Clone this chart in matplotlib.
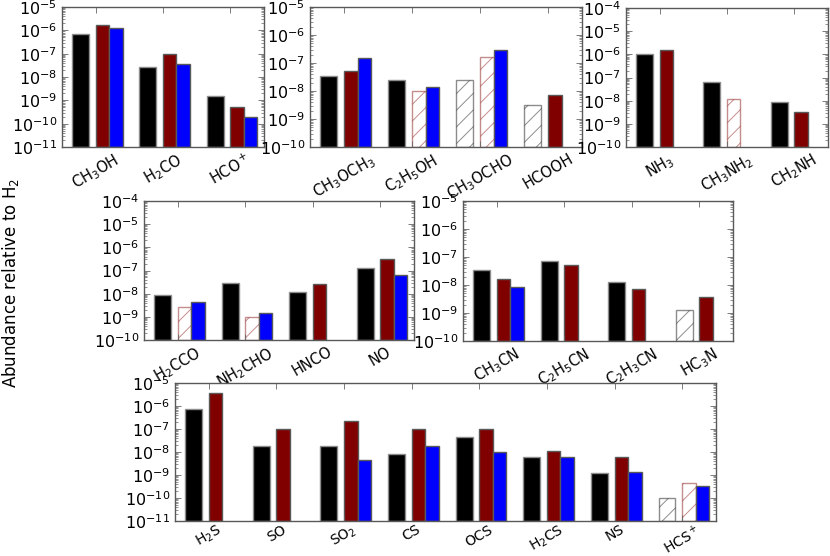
import matplotlib
matplotlib.use('Agg')
import matplotlib.pyplot as plt
from matplotlib.ticker import LogLocator, NullFormatter
import numpy as np

plt.rcParams['font.family'] = 'DejaVu Sans'
plt.rcParams['font.size'] = 11
plt.rcParams['hatch.linewidth'] = 0.7

# ---- data: black = observed, red = model A, blue = model B (None = no bar)
# panel 1: alcohols / aldehydes
p1_names = [r'CH$_3$OH', r'H$_2$CO', r'HCO$^+$']
p1_obs = [6.7e-7, 2.6e-8, 1.5e-9]
p1_red = [1.7e-6, 1.0e-7, 5.0e-10]
p1_blue = [1.2e-6, 3.5e-8, 2.0e-10]
p1_obs_lim = [False, False, False]
p1_red_lim = [False, False, False]

# panel 2: complex O-bearing
p2_names = [r'CH$_3$OCH$_3$', r'C$_2$H$_5$OH', r'CH$_3$OCHO', 'HCOOH']
p2_obs = [3.5e-8, 2.5e-8, 2.5e-8, 3.2e-9]
p2_red = [5.0e-8, 1.0e-8, 1.6e-7, 7.0e-9]
p2_blue = [1.5e-7, 1.4e-8, 2.8e-7, None]
p2_obs_lim = [False, False, True, True]
p2_red_lim = [False, True, True, False]

# panel 3: N-bearing
p3_names = [r'NH$_3$', r'CH$_3$NH$_2$', r'CH$_2$NH']
p3_obs = [1.0e-6, 6.5e-8, 8.8e-9]
p3_red = [1.55e-6, 1.2e-8, 3.3e-9]
p3_blue = [None, None, None]
p3_obs_lim = [False, False, False]
p3_red_lim = [False, True, False]

# panel 4
p4_names = [r'H$_2$CCO', r'NH$_2$CHO', 'HNCO', 'NO']
p4_obs = [9.0e-9, 3.0e-8, 1.2e-8, 1.25e-7]
p4_red = [2.7e-9, 1.0e-9, 2.5e-8, 3.2e-7]
p4_blue = [4.4e-9, 1.5e-9, None, 6.5e-8]
p4_obs_lim = [False, False, False, False]
p4_red_lim = [True, True, False, False]

# panel 5: nitriles
p5_names = [r'CH$_3$CN', r'C$_2$H$_5$CN', r'C$_2$H$_3$CN', r'HC$_3$N']
p5_obs = [3.3e-8, 7.4e-8, 1.25e-8, 1.25e-9]
p5_red = [1.6e-8, 5.0e-8, 7.4e-9, 3.8e-9]
p5_blue = [8.5e-9, None, None, None]
p5_obs_lim = [False, False, False, True]
p5_red_lim = [False, False, False, False]

# panel 6: S-bearing
p6_names = [r'H$_2$S', 'SO', r'SO$_2$', 'CS', 'OCS', r'H$_2$CS', 'NS', r'HCS$^+$']
p6_obs = [7.1e-7, 1.8e-8, 1.9e-8, 8.5e-9, 4.5e-8, 6.3e-9, 1.26e-9, 1.0e-10]
p6_red = [3.7e-6, 1.0e-7, 2.2e-7, 1.05e-7, 1.05e-7, 1.15e-8, 5.9e-9, 4.3e-10]
p6_blue = [None, None, 4.7e-9, 1.75e-8, 1.0e-8, 6.0e-9, 1.3e-9, 3.4e-10]
p6_obs_lim = [False, False, False, False, False, False, False, True]
p6_red_lim = [False, False, False, False, False, False, False, True]

W, H = 830, 556
fig = plt.figure(figsize=(W / 100, H / 100), dpi=100)


def px_rect(left, right, top, bottom):
    return [left / W, (H - bottom) / H, (right - left) / W, (bottom - top) / H]


def draw_panel(rect, names, obs, red, blue, obs_lim, red_lim, ylo, yhi,
               xfs=10.5, xpad=3):
    ax = fig.add_axes(rect)
    x = np.arange(len(names))
    for i in range(len(names)):
        if obs[i] is not None:
            if obs_lim[i]:
                ax.bar(x[i] - 0.35, obs[i] - ylo, 0.25, bottom=ylo, align='edge',
                       facecolor='white', edgecolor=(0, 0, 0, 0.45), hatch='//', lw=1)
            else:
                ax.bar(x[i] - 0.35, obs[i] - ylo, 0.25, bottom=ylo, align='edge',
                       color='black', edgecolor='0.55', lw=1)
        if red[i] is not None:
            if red_lim[i]:
                ax.bar(x[i], red[i] - ylo, 0.2, bottom=ylo, align='edge',
                       facecolor='white', edgecolor=(0.5, 0, 0, 0.45), hatch='//', lw=1)
            else:
                ax.bar(x[i], red[i] - ylo, 0.2, bottom=ylo, align='edge',
                       color='#800000', edgecolor='0.35', lw=1)
        if blue[i] is not None:
            ax.bar(x[i] + 0.2, blue[i] - ylo, 0.2, bottom=ylo, align='edge',
                   color='#0000ff', edgecolor='0.35', lw=1)
    ax.set_yscale('log')
    ax.set_ylim(ylo, yhi)
    ax.set_xlim(-0.5, len(names) - 0.5)
    ax.set_xticks(x)
    ax.set_xticklabels(names, rotation=30, fontsize=xfs)
    ax.yaxis.set_major_locator(LogLocator(base=10, numticks=20))
    ax.yaxis.set_minor_locator(LogLocator(base=10, subs=np.arange(2, 10), numticks=20))
    ax.yaxis.set_minor_formatter(NullFormatter())
    ax.tick_params(which='both', direction='in', top=True, right=True)
    ax.tick_params(axis='y', labelsize=11.5)
    ax.tick_params(which='major', length=4, width=0.6, color='0.4')
    ax.tick_params(which='minor', length=2, width=0.5, color='0.4')
    ax.tick_params(axis='x', pad=xpad)
    for s in ax.spines.values():
        s.set_color('0.35')
        s.set_linewidth(1.0)
    return ax


draw_panel(px_rect(62, 264, 7, 147), p1_names, p1_obs, p1_red, p1_blue,
           p1_obs_lim, p1_red_lim, 1e-11, 1e-5)
draw_panel(px_rect(310, 582, 7, 147), p2_names, p2_obs, p2_red, p2_blue,
           p2_obs_lim, p2_red_lim, 1e-10, 1e-5)
draw_panel(px_rect(626, 828, 8, 147), p3_names, p3_obs, p3_red, p3_blue,
           p3_obs_lim, p3_red_lim, 1e-10, 1e-4)
draw_panel(px_rect(144, 414, 201, 340), p4_names, p4_obs, p4_red, p4_blue,
           p4_obs_lim, p4_red_lim, 1e-10, 1e-4)
draw_panel(px_rect(463, 733, 201, 341), p5_names, p5_obs, p5_red, p5_blue,
           p5_obs_lim, p5_red_lim, 1e-10, 1e-5)
draw_panel(px_rect(175, 716, 383, 521), p6_names, p6_obs, p6_red, p6_blue,
           p6_obs_lim, p6_red_lim, 1e-11, 1e-5, xfs=10, xpad=1)

fig.text(0.013, (H - 283) / H, r'Abundance relative to H$_2$', rotation=90,
         ha='center', va='center', fontsize=12)

fig.savefig('out.png', dpi=100)
